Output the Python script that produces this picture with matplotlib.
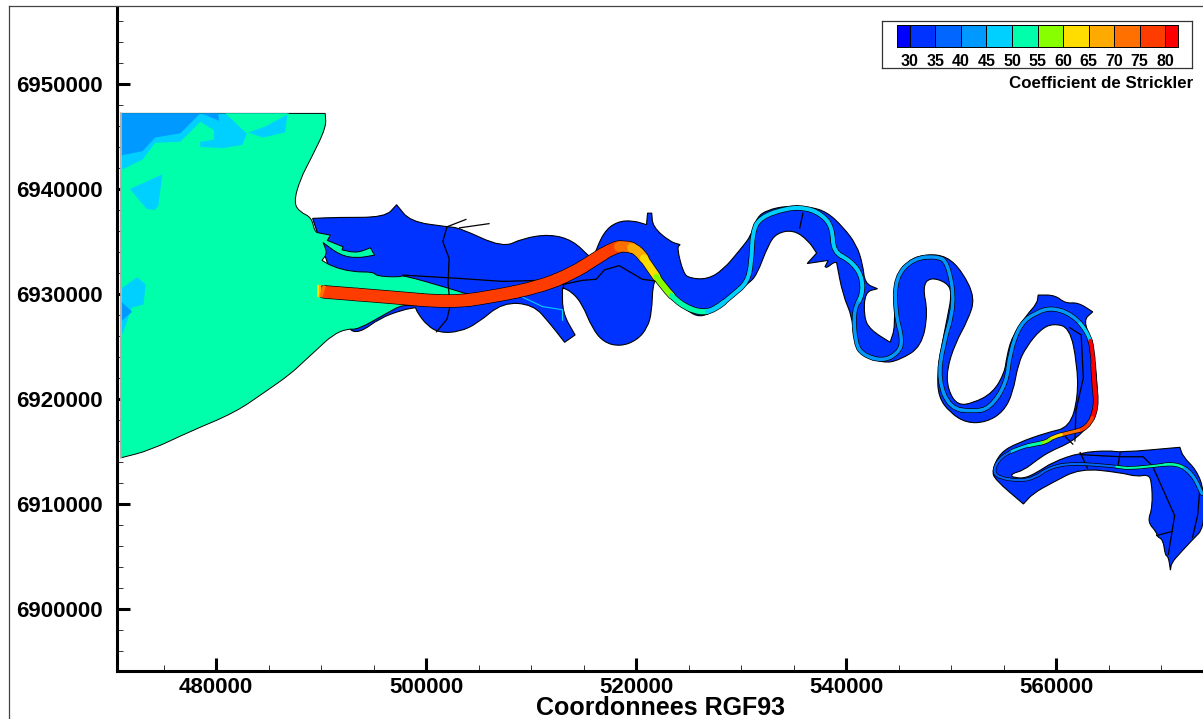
import numpy as np
import matplotlib
matplotlib.use("Agg")
import matplotlib.pyplot as plt
from matplotlib.collections import LineCollection, PathCollection
from matplotlib.colors import ListedColormap, BoundaryNorm
from matplotlib.lines import Line2D
from matplotlib.patches import PathPatch
from matplotlib.path import Path
from matplotlib.ticker import MultipleLocator

plt.rcParams['font.family'] = ['Liberation Sans', 'DejaVu Sans']
plt.rcParams['font.weight'] = 'bold'

# Echelle de Strickler
niveaux = [27.5, 30, 35, 40, 45, 50, 55, 60, 65, 70, 75, 80, 82.5]
couleurs = ['#0000ff', '#0033ff', '#0066ff', '#0099ff', '#00d0ff', '#00ffaa',
            '#88ff00', '#ffdd00', '#ffaa00', '#ff7000', '#ff3c00', '#ff0000']
etiquettes = [30, 35, 40, 45, 50, 55, 60, 65, 70, 75, 80]

# Contour du fleuve, coordonnees en km (X, Y RGF93) et K associe
fleuve_x = [489.2, 491.5, 496.1, 497.2, 498.5, 502.0, 503.2, 507.3, 509.2, 511.8, 514.0, 515.6, 515.9, 516.9, 518.2,
            519.7, 521.0, 521.1, 521.5, 521.6, 523.2, 524.2, 523.9, 524.5, 525.1, 526.8, 528.3, 529.9, 531.0, 531.5,
            532.5, 534.4, 536.6, 538.2, 539.7, 541.0, 541.6, 541.8, 543.0, 541.8, 541.7, 542.3, 544.2, 544.7, 544.5,
            545.8, 547.7, 549.6, 551.1, 552.3, 551.6, 550.4, 549.6, 549.7, 550.6, 552.1, 554.0, 555.1, 555.3, 555.8,
            557.2, 558.2, 558.3, 559.9, 560.9, 562.1, 563.5, 562.6, 563.4, 564.0, 563.9, 563.2, 561.5, 559.4, 558.2,
            556.9, 555.8, 555.8, 556.9, 558.2, 559.7, 562.3, 565.1, 566.1, 571.8, 572.1, 573.4, 574.1, 574.1,
            573.0, 571.8, 571.0, 570.9, 570.7, 570.4, 570.2, 569.6, 569.6, 568.7, 569.2, 569.1, 568.7, 567.7, 566.1,
            562.3, 559.6, 557.8, 556.9, 554.2, 553.9, 554.7, 556.3, 559.1, 561.3, 562.1, 562.0, 561.3, 559.7, 558.5,
            557.2, 556.4, 555.9, 555.0, 553.4, 551.5, 549.9, 548.8, 548.7, 549.1, 549.6, 550.1, 549.6, 548.0, 547.3,
            547.8, 547.2, 545.1, 543.5, 541.3, 540.7, 540.6, 539.7, 539.1, 538.8, 538.2, 538.0, 538.3, 536.3, 537.2,
            536.4, 535.0, 533.4, 532.6, 531.5, 530.7, 529.2, 527.3, 526.1, 525.0, 523.5, 522.0, 521.6, 521.5, 521.1,
            520.1, 518.5, 516.9, 515.8, 514.9, 513.9, 513.0, 513.0, 514.2, 513.2, 511.8, 510.2, 507.3, 504.9, 503.2,
            501.3, 500.1, 499.2, 499.0, 497.8, 495.6, 493.7, 492.5, 491.8]
fleuve_y = [6937.2, 6937.3, 6937.3, 6938.5, 6936.9, 6936.4, 6936.3, 6934.4, 6935.3, 6935.7, 6935.1, 6933.5, 6933.4, 6935.9, 6936.9,
            6937.0, 6936.6, 6937.7, 6937.7, 6936.4, 6935.0, 6934.7, 6934.4, 6932.0, 6931.5, 6931.4, 6932.3, 6934.2, 6935.6, 6937.3,
            6938.0, 6938.4, 6938.3, 6937.8, 6936.4, 6934.7, 6932.8, 6931.0, 6930.5, 6930.2, 6927.8, 6926.6, 6925.4, 6926.9, 6930.9,
            6933.2, 6933.8, 6933.6, 6932.1, 6929.6, 6927.5, 6925.3, 6922.8, 6920.9, 6919.4, 6919.6, 6920.6, 6922.5, 6924.0, 6925.9,
            6928.0, 6929.1, 6929.9, 6929.9, 6929.1, 6929.2, 6928.3, 6927.5, 6925.6, 6921.1, 6918.7, 6917.5, 6915.9, 6915.0, 6914.2,
            6913.2, 6912.9, 6912.6, 6912.4, 6913.0, 6914.0, 6914.9, 6915.1, 6914.9, 6915.4, 6914.5, 6913.2, 6911.3, 6907.7,
            6906.6, 6905.3, 6904.4, 6903.7, 6905.0, 6905.1, 6906.6, 6906.9, 6907.3, 6908.3, 6909.7, 6912.3, 6912.8, 6912.6, 6913.0,
            6913.4, 6912.0, 6911.0, 6910.0, 6912.3, 6913.2, 6914.9, 6915.8, 6916.8, 6917.3, 6920.2, 6923.4, 6926.8, 6927.2, 6926.6,
            6925.0, 6923.4, 6920.6, 6918.8, 6917.8, 6917.7, 6918.7, 6920.2, 6922.5, 6925.0, 6927.5, 6930.1, 6931.1, 6931.6, 6930.7,
            6928.2, 6925.0, 6923.7, 6923.4, 6924.4, 6925.9, 6927.8, 6929.9, 6933.0, 6933.0, 6932.5, 6932.6, 6933.2, 6932.9, 6933.9,
            6935.1, 6936.1, 6935.8, 6934.7, 6931.8, 6931.0, 6929.9, 6928.3, 6927.8, 6928.3, 6929.6, 6931.5, 6930.9, 6928.3, 6926.8,
            6925.6, 6925.0, 6925.4, 6926.8, 6929.0, 6930.2, 6930.6, 6928.2, 6926.1, 6925.4, 6927.2, 6929.0, 6929.2, 6927.2, 6926.4,
            6926.3, 6927.0, 6928.2, 6928.7, 6928.5, 6927.7, 6926.3, 6926.6, 6929.4]
k_fleuve = 32

# Estuaire
estuaire_x = [470.95, 490.4, 490.5, 489.1, 488.0, 487.4, 488.0, 489.1, 489.4, 489.9, 490.9, 490.6, 492.1, 492.0, 493.4,
              494.7, 495.1, 493.4, 491.8, 490.2, 490.6, 490.1, 491.1, 493.0, 495.0, 495.3, 497.5, 497.8, 502.0, 504.2,
              503.5, 499.1, 497.8, 496.3, 493.5, 492.5, 491.1, 489.6, 488.5, 487.0, 484.7, 481.8, 477.5, 473.7, 470.95]
estuaire_y = [6947.2, 6947.2, 6945.9, 6943.0, 6940.9, 6938.7, 6937.8, 6937.3, 6935.9, 6935.8, 6935.6, 6935.1, 6934.5, 6934.2, 6933.9,
              6934.4, 6933.7, 6933.4, 6933.7, 6934.9, 6933.9, 6933.2, 6932.6, 6932.1, 6932.1, 6931.7, 6931.6, 6931.8, 6930.6, 6929.9,
              6929.4, 6928.8, 6929.0, 6928.2, 6926.6, 6926.7, 6926.1, 6924.7, 6923.7, 6922.3, 6920.7, 6918.7, 6916.9, 6915.1, 6914.4]
k_estuaire = 52

# Zones de K different dans la baie : (x, y, K)
zones = [
    ([470.95, 486.8, 486.6, 484.5, 483.0, 482.5, 480.7, 478.5, 478.5, 479.8, 479.8, 478.5, 476.6, 474.2, 473.0, 470.95],
     [6947.2, 6947.2, 6945.4, 6944.9, 6945.4, 6944.2, 6943.9, 6944.0, 6944.5, 6944.7, 6945.6, 6946.4, 6944.5, 6944.4, 6942.8, 6941.8], 47),
    ([478.2, 480.9, 482.9, 484.8, 487.0], [6947.2, 6947.2, 6945.3, 6946.0, 6947.2], 52),
    ([470.95, 478.5, 476.6, 474.2, 473.0, 470.95], [6947.2, 6947.2, 6945.3, 6944.9, 6943.6, 6943.2], 42),
    ([478.5, 480.2, 480.3, 479.1], [6947.2, 6947.2, 6946.5, 6947.0], 42),
    ([471.8, 474.9, 474.5, 474.2, 473.4], [6940.0, 6941.4, 6938.4, 6938.0, 6938.1], 47),
    ([470.95, 472.5, 473.3, 473.1, 472.0, 470.95], [6930.5, 6931.6, 6930.9, 6929.0, 6928.7, 6925.8], 47),
    ([470.95, 472.0, 470.95], [6929.3, 6928.3, 6927.4], 42),
]

# Chenal de navigation : x, y (km), K et largeur (km)
chenal_x = [489.6, 489.8, 490.0, 490.3, 496.6, 502.3, 506.1, 510.9, 514.0, 515.9, 517.8, 519.0, 520.2, 521.3, 522.6, 524.2,
            526.1, 527.5, 529.2, 530.6, 531.0, 531.1, 531.8, 534.4, 536.3, 537.8, 538.7, 538.8, 540.4, 541.5, 541.6,
            540.7, 540.9, 541.6, 543.5, 545.0, 545.4, 544.7, 544.7, 546.4, 548.7, 549.7, 550.4, 549.2, 548.8, 549.9,
            552.1, 553.7, 555.3, 555.6, 556.6, 558.2, 559.7, 561.6, 563.0, 563.5, 563.6, 563.9, 563.0, 561.3, 559.7,
            559.1, 558.0, 556.6, 554.7, 554.0, 554.5, 556.6, 558.0, 559.4, 561.6, 565.4, 566.1, 567.0, 569.2, 571.5,
            573.0, 573.9]
chenal_y = [6930.3, 6930.3, 6930.3, 6930.2, 6929.7, 6929.2, 6929.7, 6930.7, 6932.0, 6933.2, 6934.4, 6934.6, 6934.2, 6932.6, 6930.7, 6929.0,
            6928.2, 6928.5, 6929.9, 6931.1, 6933.0, 6935.9, 6937.3, 6938.2, 6938.2, 6937.5, 6936.3, 6934.0, 6933.2, 6931.8, 6929.9,
            6928.5, 6925.3, 6924.2, 6923.6, 6924.4, 6925.6, 6928.2, 6931.6, 6933.4, 6933.6, 6933.0, 6929.1, 6925.0, 6921.8, 6919.1,
            6918.8, 6919.1, 6921.5, 6924.4, 6927.2, 6928.3, 6928.7, 6928.0, 6926.4, 6924.7, 6921.8, 6919.2, 6917.2, 6916.8, 6916.4,
            6915.9, 6915.7, 6915.4, 6914.5, 6913.2, 6912.5, 6912.2, 6912.5, 6913.5, 6913.9, 6913.6, 6913.5, 6913.4, 6913.6, 6913.9,
            6912.9, 6911.0]
chenal_k = [62, 66, 71, 77, 77, 77, 77, 77, 77, 77, 76, 72, 67, 62, 58, 54,
            52, 48, 47, 47, 47, 47, 47, 47, 47, 47, 47, 47, 47, 47, 47,
            44, 44, 44, 44, 44, 44, 44, 44, 44, 44, 44, 44, 44, 44, 44,
            44, 44, 44, 44, 44, 44, 44, 44, 47, 81, 81, 81, 78, 72, 62,
            57, 53, 47, 37, 37, 37, 37, 37, 37, 37, 37, 52, 52, 52, 52,
            44, 44]
chenal_l = [1.15, 1.15, 1.15, 1.15, 1.15, 1.15, 1.15, 1.15, 1.15, 1.15, 1.1, 1.0, 0.9, 0.75, 0.6, 0.5,
            0.5, 0.45, 0.38, 0.38, 0.38, 0.38, 0.38, 0.38, 0.38, 0.38, 0.38, 0.38, 0.38, 0.38, 0.38,
            0.33, 0.33, 0.33, 0.33, 0.33, 0.33, 0.33, 0.33, 0.33, 0.33, 0.33, 0.33, 0.33, 0.33, 0.33,
            0.33, 0.33, 0.33, 0.33, 0.33, 0.33, 0.33, 0.33, 0.33, 0.35, 0.4, 0.4, 0.35, 0.3, 0.3,
            0.3, 0.3, 0.25, 0.2, 0.2, 0.2, 0.2, 0.2, 0.2, 0.2, 0.2, 0.2, 0.2, 0.2, 0.25,
            0.3, 0.3]

# Bras secondaire
bras_x = [509.2, 511.1, 513.0, 513.0]
bras_y = [6929.7, 6928.8, 6928.5, 6927.5]
bras_k = 47

# Digues et limites internes (traits noirs)
digues = [
    ([503.8, 502.0, 501.6, 502.2, 502.1, 502.3, 502.0, 501.0], [6937.1, 6936.4, 6935.0, 6933.4, 6931.0, 6928.9, 6927.6, 6926.4]),
    ([506.0, 503.2], [6936.7, 6936.3]),
    ([497.8, 502.9, 507.3, 510.9, 514.0], [6931.8, 6931.5, 6931.2, 6931.3, 6932.1]),
    ([513.0, 514.9, 516.2, 517.0, 518.4, 520.6, 522.1], [6930.9, 6931.3, 6931.4, 6932.3, 6932.7, 6931.4, 6931.2]),
    ([513.0, 513.0], [6931.0, 6930.6]),
    ([535.9, 535.6], [6937.7, 6936.3]),
    ([561.3, 562.4, 562.6, 561.9, 561.8], [6926.8, 6926.1, 6922.0, 6918.9, 6916.0]),
    ([560.9, 561.6], [6916.4, 6915.7]),
    ([562.3, 563.0], [6914.9, 6913.4]),
    ([562.3, 566.1, 568.3, 569.2], [6914.7, 6914.5, 6914.5, 6913.6]),
    ([566.1, 565.9], [6914.9, 6913.6]),
    ([569.2, 571.3, 570.7], [6913.6, 6908.9, 6905.2]),
    ([569.6, 571.1], [6907.0, 6907.4]),
    ([573.0, 573.5, 573.7], [6906.8, 6909.0, 6911.5]),
]

cmap = ListedColormap(couleurs)
norm = BoundaryNorm(niveaux, cmap.N)

L, H = 1203, 719
fig = plt.figure(figsize=(L / 100, H / 100), dpi=100)
ax = fig.add_axes([117 / L, (H - 671) / H, 1086 / L, 664 / H])
ax.set_xlim(470571, 574000)
ax.set_ylim(6894095, 6957333)
pt_par_km = 10.5 * 0.72


def m(v):
    return np.array(v) * 1000


def contour_lisse(x, y):
    # courbes de Bezier entre les sommets, les pointes restent anguleuses
    p = np.column_stack([m(x), m(y)])
    n = len(p)
    debut = (p[-1] + p[0]) / 2
    verts = [debut]
    codes = [Path.MOVETO]
    for i in range(n):
        a, b, c = p[i - 1], p[i], p[(i + 1) % n]
        u, v = b - a, c - b
        cosa = np.dot(u, v) / (np.linalg.norm(u) * np.linalg.norm(v) + 1e-9)
        fin = (b + c) / 2
        if cosa < 0.25:
            verts += [b, fin]
            codes += [Path.LINETO, Path.LINETO]
        else:
            verts += [b, fin]
            codes += [Path.CURVE3, Path.CURVE3]
    verts.append(debut)
    codes.append(Path.CLOSEPOLY)
    return Path(verts, codes)


ax.add_patch(PathPatch(contour_lisse(fleuve_x, fleuve_y), fc=cmap(norm(k_fleuve)), ec='black', lw=0.8, zorder=1))
ax.add_patch(PathPatch(contour_lisse(estuaire_x, estuaire_y), fc=cmap(norm(k_estuaire)), ec='black', lw=0.7, zorder=2))
for zx, zy, zk in zones:
    ax.fill(m(zx), m(zy), fc=cmap(norm(zk)), ec='none', zorder=3)
# le bord gauche de la baie reste sans contour noir
ax.plot(m([470.95, 470.95]), m([6914.4, 6947.2]), color='#bbbbbb', lw=1.2, zorder=4)

for dx, dy in digues:
    ax.plot(m(dx), m(dy), color='black', lw=0.9, zorder=5)
ax.plot(m(bras_x), m(bras_y), color=cmap(norm(bras_k)), lw=0.8, zorder=5)

# Chenal : la tete en segments droits, le reste en courbes
pts = np.column_stack([m(chenal_x), m(chenal_y)])
k = np.array(chenal_k, dtype=float)
lw = np.array(chenal_l) * pt_par_km
tete = 3

morceaux = []
for i in range(tete, len(pts)):
    if i == tete:
        morceaux.append(Path([pts[i], (pts[i] + pts[i + 1]) / 2], [Path.MOVETO, Path.LINETO]))
    elif i == len(pts) - 1:
        morceaux.append(Path([(pts[i - 1] + pts[i]) / 2, pts[i]], [Path.MOVETO, Path.LINETO]))
    else:
        morceaux.append(Path([(pts[i - 1] + pts[i]) / 2, pts[i], (pts[i] + pts[i + 1]) / 2],
                             [Path.MOVETO, Path.CURVE3, Path.CURVE3]))

trans = ax.transData
ax.add_collection(PathCollection(morceaux, facecolors='none', edgecolors='black', linewidths=lw[tete:] + 1.0,
                                 capstyle='round', transform=trans, zorder=6))
ax.add_collection(PathCollection(morceaux, facecolors='none', edgecolors=cmap(norm(k[tete:])), linewidths=lw[tete:],
                                 capstyle='round', transform=trans, zorder=7))
segs = np.stack([pts[:tete], pts[1:tete + 1]], axis=1)
ax.add_collection(LineCollection(segs, cmap=cmap, norm=norm, array=k[:tete], linewidths=lw[:tete],
                                 capstyle='butt', zorder=8))

# Axes
for s in ['top', 'right']:
    ax.spines[s].set_visible(False)
for s in ['left', 'bottom']:
    ax.spines[s].set_linewidth(2.2)
ax.xaxis.set_major_locator(MultipleLocator(20000))
ax.xaxis.set_minor_locator(MultipleLocator(5000))
ax.yaxis.set_major_locator(MultipleLocator(10000))
ax.yaxis.set_minor_locator(MultipleLocator(2000))
ax.ticklabel_format(style='plain', useOffset=False)
ax.tick_params(which='major', direction='in', length=9.5, width=2.2, labelsize=16, pad=10)
ax.tick_params(which='minor', direction='in', length=4.5, width=0.7, color='#333333')
ax.tick_params(axis='x', which='major', pad=4)

fig.text(660 / L, 1 - 708 / H, 'Coordonnees RGF93', fontsize=18, ha='center', va='center')

# Cadre de la page
fig.add_artist(Line2D([9 / L, 9 / L], [0, 1 - 6 / H], color='#444444', lw=0.9))
fig.add_artist(Line2D([9 / L, 1], [1 - 6 / H, 1 - 6 / H], color='#444444', lw=0.9))

# Legende
boite = fig.add_axes([882 / L, 1 - 68 / H, 310 / L, 47 / H])
boite.set_xticks([])
boite.set_yticks([])
for s in boite.spines.values():
    s.set_linewidth(0.9)
    s.set_color('#333333')

barre = fig.add_axes([897 / L, 1 - 47 / H, 281 / L, 22 / H])
barre.pcolormesh(niveaux, [0, 1], np.array([[(a + b) / 2 for a, b in zip(niveaux[:-1], niveaux[1:])]]),
                 cmap=cmap, norm=norm, edgecolors='black', linewidth=0.7)
barre.set_xlim(niveaux[0], niveaux[-1])
barre.set_yticks([])
barre.set_xticks(etiquettes)
barre.tick_params(axis='x', length=0, labelsize=11.5, pad=5)
for s in barre.spines.values():
    s.set_linewidth(0.7)

fig.text(1193 / L, 1 - 83 / H, 'Coefficient de Strickler', fontsize=12.2, ha='right', va='center')

fig.savefig('out.png', dpi=100)
